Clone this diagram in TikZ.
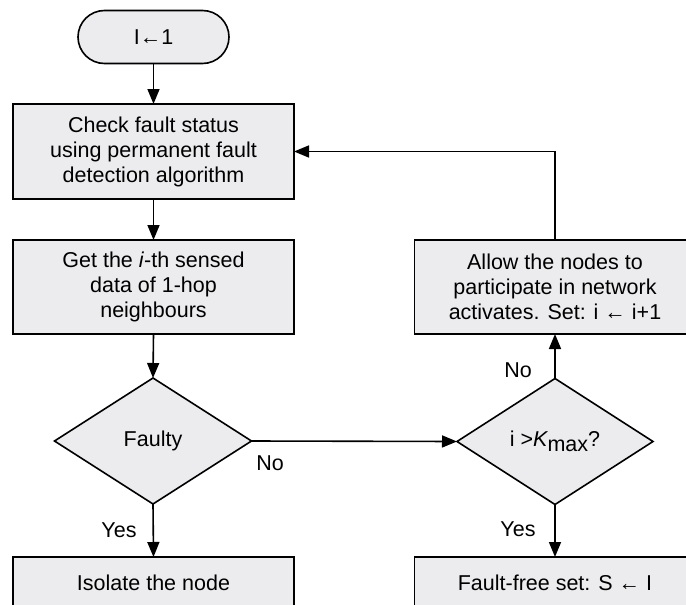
\documentclass[tikz,border=0pt]{standalone}
\usepackage{fontspec}
\setmainfont{Liberation Sans}
\usetikzlibrary{shapes.geometric,shapes.misc,arrows.meta}
\definecolor{boxfill}{RGB}{236,236,238}
\begin{document}
\begin{tikzpicture}[x=1pt,y=-1pt,
  every node/.style={font=\fontsize{21.5}{25}\selectfont, inner sep=0pt, outer sep=0pt},
  flowbox/.style={draw, line width=1.6pt, fill=boxfill, rectangle, minimum width=281pt, align=center},
  decision/.style={draw, line width=1.6pt, fill=boxfill, diamond, align=center},
  termbox/.style={draw, line width=1.6pt, fill=boxfill, rounded rectangle, minimum width=151pt, minimum height=53pt},
  flowarrow/.style={line width=1.6pt, -{Triangle[length=15pt,width=12pt]}},
  flowline/.style={line width=1.6pt}
]
\useasboundingbox (0,0) rectangle (686,605);
\clip (0,0) rectangle (686,605);

\node[termbox] (start) at (153.5,37) {I←1};
\node[flowbox, minimum height=95pt] (check) at (153.5,151.5) {Check fault status\\using permanent fault\\detection algorithm};
\node[flowbox, minimum height=94pt] (get) at (153.5,287) {Get the \textit{i}-th sensed\\data of 1-hop\\neighbours};
\node[decision, minimum width=197pt, minimum height=126pt] (faulty) at (153,441) {Faulty};
\node[flowbox, minimum height=95pt] (isolate) at (153.5,604.5) {};
\node (isolatetext) at (153.5,583) {Isolate the node};

\node[flowbox, minimum height=94pt] (allow) at (555,287) {Allow the nodes to\\participate in network\\activates. Set: i ← i+1};
\node[decision, minimum width=196pt, minimum height=126pt] (kmax) at (555,441.5) {i >{\itshape K}\raisebox{-5pt}{max}?};
\node[flowbox, minimum height=95pt] (faultfree) at (555,604.5) {};
\node (faultfreetext) at (555,583) {Fault-free set: S ← I};

\draw[flowarrow] (start.south) -- (check.north);
\draw[flowarrow] (check.south) -- (get.north);
\draw[flowarrow] (get.south) -- (faulty.north);
\draw[flowarrow] (faulty.south) -- (isolate.north);
\draw[flowarrow] (faulty.east) -- (kmax.west);
\draw[flowarrow] (kmax.south) -- (faultfree.north);
\draw[flowarrow] (kmax.north) -- (allow.south);
\draw[flowarrow] (allow.north) |- (check.east);

\node (no1) at (270,463) {No};
\node (yes1) at (119,530) {Yes};
\node (no2) at (518,370) {No};
\node (yes2) at (518,529) {Yes};
\end{tikzpicture}
\end{document}
